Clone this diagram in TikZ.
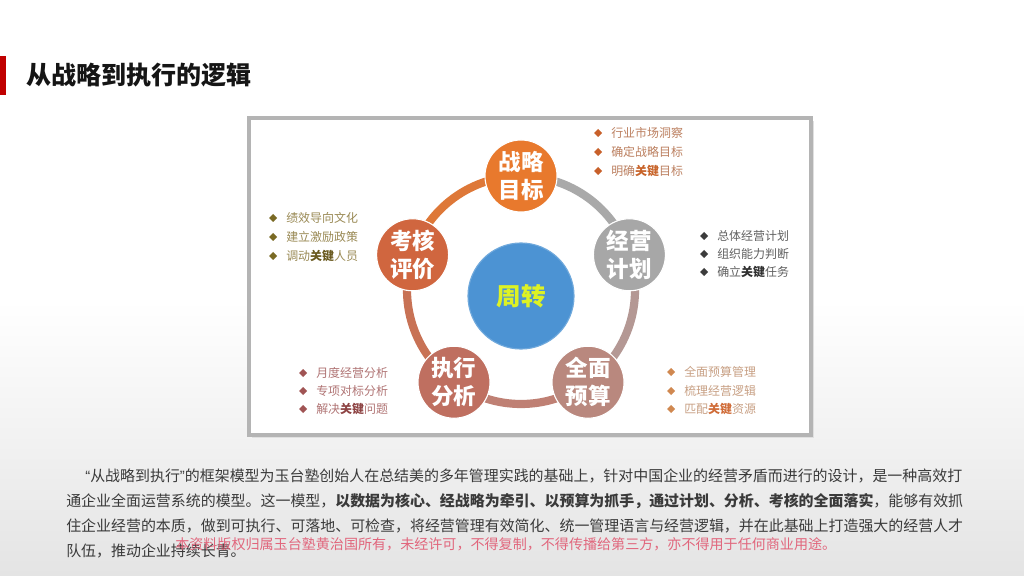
\documentclass[tikz,border=0pt]{standalone}
\usepackage{fontspec}
\setmainfont{Noto Sans CJK SC}
\newfontfamily\latinq{Liberation Sans}
\usetikzlibrary{calc}
\definecolor{redbar}{HTML}{C00000}
\definecolor{titleC}{HTML}{151515}
\definecolor{frameC}{HTML}{B4B4B4}
\definecolor{bgbot}{HTML}{E4E4E4}
\definecolor{cZL}{HTML}{E8792D}
\definecolor{cJY}{HTML}{A7A7A7}
\definecolor{cQM}{HTML}{B9887E}
\definecolor{cZX}{HTML}{BF6F60}
\definecolor{cKH}{HTML}{D0663F}
\definecolor{cBlue}{HTML}{4C93D3}
\definecolor{cZZ}{HTML}{DDF224}
\definecolor{rA}{HTML}{A9A9A9}
\definecolor{rB}{HTML}{B49894}
\definecolor{rC}{HTML}{BF8074}
\definecolor{rD}{HTML}{C87255}
\definecolor{rE}{HTML}{DE7838}
\definecolor{paraC}{HTML}{3A3A3A}
\definecolor{wmC}{HTML}{E0506A}
% bullet colours
\definecolor{dZL}{HTML}{C8602A}\definecolor{tZL}{HTML}{BC8060}\definecolor{kZL}{HTML}{C8642A}
\definecolor{dJY}{HTML}{3C3C3C}\definecolor{tJY}{HTML}{606060}\definecolor{kJY}{HTML}{303030}
\definecolor{dKH}{HTML}{7A6A24}\definecolor{tKH}{HTML}{9A8A55}\definecolor{kKH}{HTML}{6A5A20}
\definecolor{dZX}{HTML}{A05454}\definecolor{tZX}{HTML}{B07474}\definecolor{kZX}{HTML}{8E4444}
\definecolor{dQM}{HTML}{D08850}\definecolor{tQM}{HTML}{C8A084}\definecolor{kQM}{HTML}{D06C38}
\tikzset{
  circ/.style={circle, minimum size=1.8cm, inner sep=0pt, text=white, align=center,
    font=\bfseries\fontsize{16}{19.8}\selectfont, draw=white, line width=0.8pt},
  ring/.style={line width=5.8pt},
  bt/.style={anchor=west, inner sep=0pt, font=\fontsize{8.5}{10}\selectfont},
  para/.style={anchor=west, inner sep=0pt, text=paraC, font=\fontsize{10.63}{12}\selectfont},
}
\newcommand\bul[6]{%
  \node[bt, text=#5] (#1) at (#2,#3) {#6};
  \fill[#4] ($(#1.west)+(-13,0)$) +(0,-4) -- +(4,0) -- +(0,4) -- +(-4,0) -- cycle;}
\newcommand\kj[1]{\textbf{\color{#1}关键}}
\begin{document}
\begin{tikzpicture}[x=0.025cm,y=-0.025cm]
\useasboundingbox (0,0) rectangle (1024,576);
\fill[white] (0,0) rectangle (1024,300);
\shade[top color=white, bottom color=bgbot] (0,300) rectangle (1024,576);
% title
\fill[redbar] (0,56) rectangle (6,95);
\node[anchor=west, inner sep=0pt, text=titleC, font=\bfseries\fontsize{17.8}{20}\selectfont] (title) at (26,75) {从战略到执行的逻辑};
% frame
\fill[black!12] (252,121) rectangle (814,438);
\draw[frameC, line width=2.4pt, fill=white] (249,118) rectangle (811,435);
% ring
\coordinate (C) at (521,290);
\coordinate (p1) at ($(C)+(270:114)$);
\coordinate (p2) at ($(C)+(342:114)$);
\coordinate (p3) at ($(C)+(54:114)$);
\coordinate (p4) at ($(C)+(126:114)$);
\coordinate (p5) at ($(C)+(198:114)$);
\draw[ring, rA] (p1) arc[start angle=270, end angle=342, radius=114];
\draw[ring, rB] (p2) arc[start angle=342, end angle=414, radius=114];
\draw[ring, rC] (p3) arc[start angle=54, end angle=126, radius=114];
\draw[ring, rD] (p4) arc[start angle=126, end angle=198, radius=114];
\draw[ring, rE] (p5) arc[start angle=198, end angle=270, radius=114];
% circles
\node[circ, fill=cZL] (zl) at (p1) {战略\\目标};
\node[circ, fill=cJY] (jy) at (p2) {经营\\计划};
\node[circ, fill=cQM] (qm) at (p3) {全面\\预算};
\node[circ, fill=cZX] (zx) at (p4) {执行\\分析};
\node[circ, fill=cKH] (kh) at (p5) {考核\\评价};
\node[circle, minimum size=2.65cm, inner sep=0pt, fill=cBlue, draw=cBlue!80!white, line width=0.8pt, text=cZZ,
  font=\bfseries\fontsize{17.5}{20}\selectfont] (zz) at (521,296) {周转};
% bullet lists
\bul{a1}{611}{133}{dZL}{tZL}{行业市场洞察}
\bul{a2}{611}{152}{dZL}{tZL}{确定战略目标}
\bul{a3}{611}{171}{dZL}{tZL}{明确\kj{kZL}目标}
\bul{b1}{717}{236}{dJY}{tJY}{总体经营计划}
\bul{b2}{717}{254}{dJY}{tJY}{组织能力判断}
\bul{b3}{717}{272}{dJY}{tJY}{确立\kj{kJY}任务}
\bul{e1}{286}{218}{dKH}{tKH}{绩效导向文化}
\bul{e2}{286}{237}{dKH}{tKH}{建立激励政策}
\bul{e3}{286}{256}{dKH}{tKH}{调动\kj{kKH}人员}
\bul{d1}{316}{373}{dZX}{tZX}{月度经营分析}
\bul{d2}{316}{391}{dZX}{tZX}{专项对标分析}
\bul{d3}{316}{409}{dZX}{tZX}{解决\kj{kZX}问题}
\bul{c1}{684}{372}{dQM}{tQM}{全面预算管理}
\bul{c2}{684}{391}{dQM}{tQM}{梳理经营逻辑}
\bul{c3}{684}{409}{dQM}{tQM}{匹配\kj{kQM}资源}
% paragraph
\node[para] (l1) at (85,476) {{\latinq “}从战略到执行{\latinq ”}的框架模型为玉台塾创始人在总结美的多年管理实践的基础上，针对中国企业的经营矛盾而进行的设计，是一种高效打};
\node[para] (l2) at (66,501) {通企业全面运营系统的模型。这一模型，\textbf{以数据为核心、经战略为牵引、以预算为抓手，通过计划、分析、考核的全面落实}，能够有效抓};
\node[para] (l3) at (66,526) {住企业经营的本质，做到可执行、可落地、可检查，将经营管理有效简化、统一管理语言与经营逻辑，并在此基础上打造强大的经营人才};
\node[para] (l4) at (66,551) {队伍，推动企业持续长青。};
\node[anchor=west, inner sep=0pt, text=wmC, opacity=0.85, font=\fontsize{10}{12}\selectfont] (wm) at (175,544) {本资料版权归属玉台塾黄治国所有，未经许可，不得复制，不得传播给第三方，亦不得用于任何商业用途。};
\end{tikzpicture}
\end{document}
